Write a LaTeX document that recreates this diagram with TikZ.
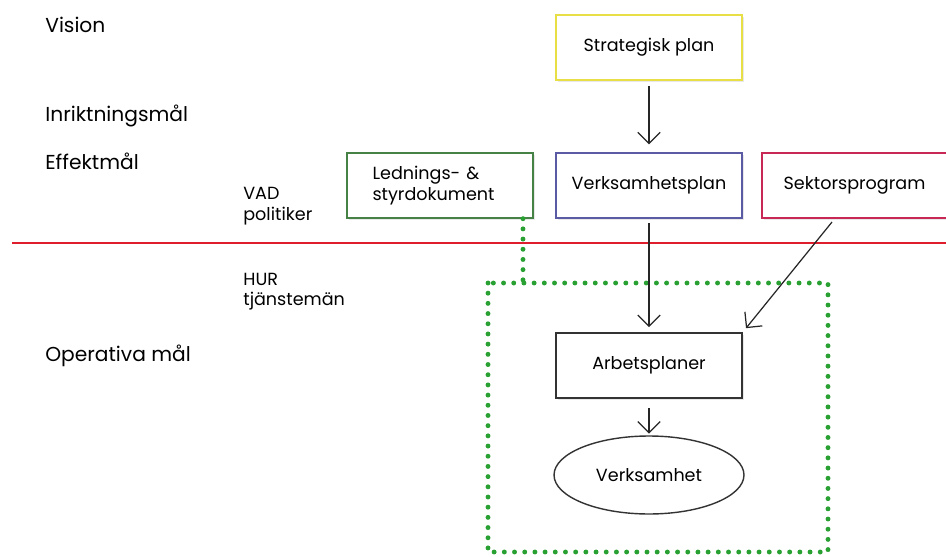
\documentclass[tikz,border=0pt]{standalone}
\usepackage{fontspec}
\setmainfont{Poppins}
\usepackage{tikz}
\usetikzlibrary{arrows.meta,positioning,shapes.geometric,shadows}

\definecolor{planyellow}{RGB}{232,222,70}
\definecolor{plangreen}{RGB}{70,130,70}
\definecolor{planblue}{RGB}{90,90,165}
\definecolor{plancrimson}{RGB}{200,40,85}
\definecolor{linered}{RGB}{222,30,45}
\definecolor{dotgreen}{RGB}{40,160,50}

\tikzset{
  planbox/.style={draw, line width=.8pt, fill=white, minimum width=3.72cm,
    minimum height=1.3cm, drop shadow={opacity=.18, shadow xshift=1.2pt, shadow yshift=-1.2pt}},
  levellabel/.style={anchor=base west, inner sep=0pt, font=\fontsize{11.5}{13}\selectfont},
  rolelabel/.style={anchor=base west, inner sep=0pt, font=\fontsize{10}{12}\selectfont, align=left},
  arr/.style={draw=black!85, line width=.7pt, -{Straight Barb[angle=90:9pt, line width=.7pt]}},
  dotline/.style={dotgreen, line width=2.8pt, line cap=round, dash pattern=on 0pt off 5.8pt}
}

\begin{document}
\begin{tikzpicture}[x=0.02cm, y=-0.02cm, font=\fontsize{10}{12}\selectfont]
    \useasboundingbox (0,0) rectangle (946,557);
    % levels on the left
    \node[levellabel] (vision) at (45,33) {Vision};
    \node[levellabel] (inriktning) at (45,122) {Inriktningsmål};
    \node[levellabel] (effekt) at (45,170) {Effektmål};
    \node[levellabel] (operativa) at (45,361) {Operativa mål};
    \node[rolelabel] (vad) at (243,200) {VAD};
    \node[rolelabel] (politiker) at (243,220) {politiker};
    \node[rolelabel] (hur) at (243,285) {HUR};
    \node[rolelabel] (tjansteman) at (243,305) {tjänstemän};
    % boundary
    \draw[linered, line width=1.5pt] (12,243) -- (946,243);
    % documents
    \node[planbox, draw=planyellow] (strategisk) at (649,47.5) {Strategisk plan};
    \node[planbox, draw=plangreen, align=left, text width=2.7cm] (ledning) at (440,185.5)
      {Lednings- \&\\styrdokument};
    \node[planbox, draw=planblue] (verksamhetsplan) at (649,185.5) {Verksamhetsplan};
    \node[planbox, draw=plancrimson, minimum width=3.8cm] (sektor) at (857,185.5) {\hspace*{-.1cm}Sektorsprogram};
    \node[planbox, draw=black!80] (arbetsplaner) at (649,365.5) {Arbetsplaner};
    \node[ellipse, draw=black!80, line width=.8pt, fill=white, minimum width=3.8cm,
      minimum height=1.56cm] (verksamhet) at (649,475) {Verksamhet};
    % operative frame
    \coordinate (ramtopp) at (523,283);
    \draw[dotline] (488,283) rectangle (828,552);
    \draw[dotline] (ledning.south -| ramtopp) -- (ramtopp);
    % arrows
    \coordinate (sektorfot) at (832,222);
    \draw[arr, shorten <=3pt, shorten >=4.5pt] (strategisk) -- (verksamhetsplan);
    \draw[arr, shorten <=2.5pt, shorten >=3pt] (verksamhetsplan) -- (arbetsplaner);
    \draw[arr, shorten >=3pt] (sektorfot) -- (arbetsplaner.north east);
    \draw[arr, shorten <=5.5pt, shorten >=1pt] (arbetsplaner) -- (verksamhet);
  \end{tikzpicture}
\end{document}
